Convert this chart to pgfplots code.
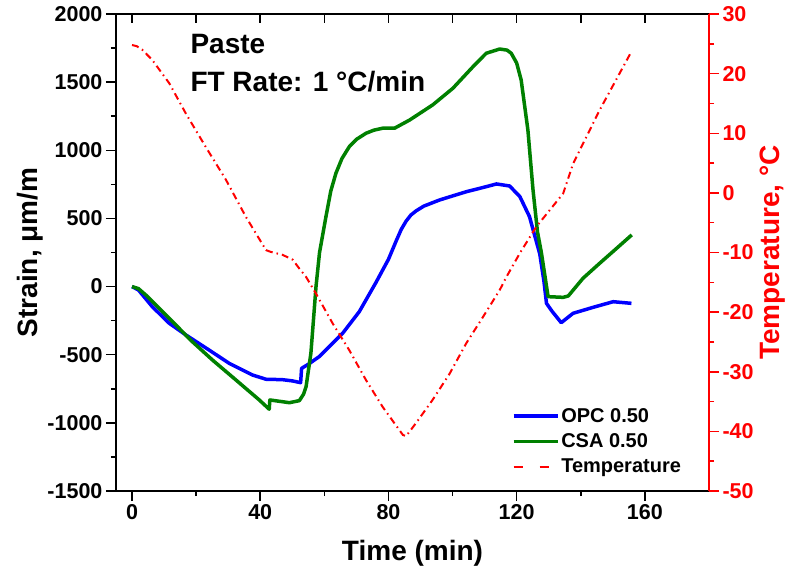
\documentclass[border=0pt]{standalone}
\usepackage{fontspec}
\setmainfont{Liberation Sans}
\usepackage{pgfplots}
\usepackage{pgfplotstable}
\pgfplotsset{compat=1.18}
\definecolor{opcblue}{RGB}{0,0,255}
\definecolor{csagreen}{RGB}{0,128,0}
\definecolor{tred}{RGB}{255,0,0}

\pgfplotstableread{
t s
0 0
2 -25
6.3 -147
11.6 -269
16.8 -355
24 -465
30.3 -563
37.6 -649
41.8 -680
46.9 -683
50 -692
52.6 -705
52.9 -600
55 -570
58.4 -514
60.5 -465
65.7 -343
70.9 -184
76.1 30
80 200
82.5 340
84 420
85.5 480
87 525
88.6 555
91 590
95.9 635
100 665
104.3 696
110.5 733
113.7 753
117.8 738
121 660
124 513
127.2 240
128.5 40
129.3 -123
131 -180
133.9 -265
137.6 -196
143.9 -152
150.1 -111
155.8 -123
}\opc

\pgfplotstableread{
t s
0 0
2 -15
4.3 -62
11.6 -233
18.8 -404
25.1 -539
32.4 -685
39.7 -832
42.8 -900
43 -832
49.1 -852
52.2 -837
53.5 -790
54.3 -734
55.8 -490
57.4 0
58.5 250
60.5 513
62 700
63.6 831
65.5 940
67.8 1027
70 1080
73 1125
75.5 1148
78.2 1162
81.9 1162
86.6 1222
93.8 1333
100.1 1455
106.4 1614
110.5 1712
114.7 1743
117 1735
118.3 1712
120 1640
121.4 1516
123.5 1149
125.1 709
126.5 400
127.7 250
129 50
129.8 -74
134.5 -79
136.1 -69
140.7 61
145.9 171
151.2 281
155.9 379
}\csa

\pgfplotstableread{
t T
0 24.8
1.5 24.6
3.2 24.0
6.3 22.3
11.6 18.4
16.8 13.3
23 7.7
29.3 2.2
35.5 -4.0
41.8 -9.6
43.3 -9.9
47 -10.4
50.1 -11.2
52.2 -12.7
54.3 -14.1
57.4 -16.9
62.6 -21.9
67.8 -26.4
73 -31.4
78.2 -35.9
84.5 -40.6
85.5 -40.8
88.6 -38.6
93.8 -34.7
99.1 -30.3
104.3 -25.2
109.5 -20.8
114.7 -16.3
116.8 -14.1
121 -10.1
126.1 -5.7
134.5 -0.1
137.6 4.9
145.9 13.9
155.8 23.7
}\temp

\pgfplotsset{
  common/.style={
    width=593pt, height=477pt, scale only axis,
    at={(0,0)}, anchor=south west,
    xmin=-5, xmax=180,
    /pgf/number format/assume math mode=true,
    /pgf/number format/set thousands separator={},
    ticklabel style={font=\fontsize{21.5}{25}\selectfont\bfseries},
    label style={font=\fontsize{28}{34}\selectfont\bfseries},
    major tick length=10pt, minor tick length=5pt,
    tick align=outside,
  }
}

\begin{document}
\begin{tikzpicture}
\useasboundingbox (-116pt,-83pt) rectangle (672pt,491pt);
% left axis: strain
\begin{axis}[common,
  axis x line*=bottom, axis y line*=left,
  axis line style={black, line width=1.5pt},
  tick style={black, line width=1.5pt},
  ymin=-1500, ymax=2000,
  xtick={0,40,80,120,160}, minor x tick num=1,
  ytick={-1500,-1000,...,2000}, minor y tick num=1,
  xlabel={Time (min)},
  ylabel={Strain, μm/m},
  xlabel style={at={(axis description cs:0.5,-0.1447)}, anchor=base},
  ylabel style={at={(axis description cs:-0.145,0.5)}, anchor=center},
]
\addplot[opcblue, line width=3.5pt, line join=round] table[x=t,y=s] {\opc};
\addplot[csagreen, line width=3.5pt, line join=round] table[x=t,y=s] {\csa};
\node[anchor=base west, font=\fontsize{28}{34}\selectfont\bfseries] at (rel axis cs:0.1197,0.918) {Paste};
\node[anchor=base west, font=\fontsize{28}{34}\selectfont\bfseries] at (rel axis cs:0.1197,0.8365) {FT Rate: 1 °C/min};
\end{axis}
% top axis ticks
\begin{axis}[common,
  axis x line*=top, axis y line=none,
  axis line style={black, line width=1.5pt},
  tick style={black, line width=1.5pt},
  ymin=0, ymax=1,
  xtick={0,20,...,180}, xticklabels={},
  tick align=inside, major tick length=9pt,
]
\end{axis}
% right axis: temperature
\begin{axis}[common,
  axis x line=none, axis y line*=right,
  axis line style={tred, line width=1.5pt},
  tick style={tred, line width=1.5pt},
  ymin=-50, ymax=30,
  ytick={-50,-40,...,30}, minor y tick num=1,
  yticklabel style={text=tred},
  ylabel={Temperature, °C},
  ylabel style={text=tred, at={(axis description cs:1.108,0.5)}, anchor=center},
  legend style={draw=none, fill=none, at={(rel axis cs:0.662,0.026)}, anchor=south west,
    font=\fontsize{20}{24}\selectfont\bfseries, row sep=6pt},
  legend cell align=left,
  legend image code/.code={\draw[#1] (0pt,0pt) -- (44pt,0pt);},
]
\addlegendimage{opcblue, line width=3.5pt}
\addlegendentry{OPC 0.50}
\addlegendimage{csagreen, line width=3.5pt}
\addlegendentry{CSA 0.50}
\addlegendimage{tred, line width=2pt, dash pattern=on 9pt off 17pt}
\addlegendentry{Temperature}
\addplot[tred, line width=2pt, dash pattern=on 7pt off 4pt on 1.5pt off 4pt, forget plot] table[x=t,y=T] {\temp};
\end{axis}
\end{tikzpicture}
\end{document}
